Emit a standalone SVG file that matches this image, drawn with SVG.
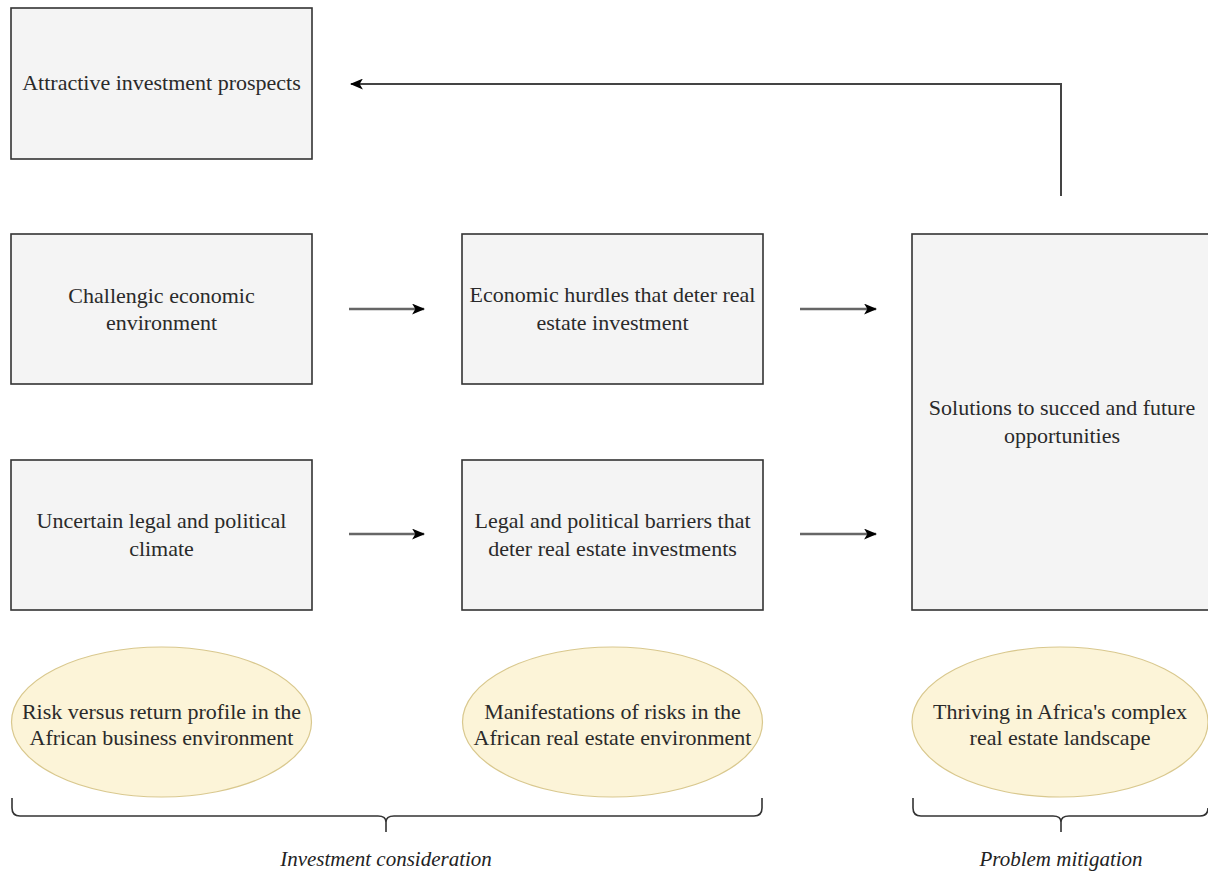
<svg xmlns="http://www.w3.org/2000/svg" width="1208" height="874" viewBox="0 0 1208 874">
<style>
.box{fill:#f4f4f4;stroke:#333;stroke-width:1.6}
.ell{fill:#fcf4d8;stroke:#d9c88e;stroke-width:1.2}
.t{font-family:"Liberation Serif","Times New Roman","DejaVu Serif",serif;font-size:22px;fill:#2a2a2a;text-anchor:middle}
.it{font-family:"Liberation Serif","Times New Roman","DejaVu Serif",serif;font-size:21px;font-style:italic;fill:#222;text-anchor:middle}
.ln{fill:none;stroke:#666;stroke-width:2.5}
.lt{fill:none;stroke:#444;stroke-width:2}
.br{fill:none;stroke:#333;stroke-width:1.6}
</style>
<defs>
<marker id="ah" viewBox="0 0 12 10" refX="11" refY="5" markerWidth="13" markerHeight="11" markerUnits="userSpaceOnUse" orient="auto">
<path d="M0,0 L12,5 L0,10 L3,5 Z" fill="#000"/>
</marker>
</defs>
<rect width="1208" height="874" fill="#fff"/>
<g id="n-attractive"><rect class="box" x="11" y="8" width="301" height="151"/><text class="t" x="161.5" y="90">Attractive investment prospects</text></g>
<g id="n-challengic"><rect class="box" x="11" y="234" width="301" height="150"/><text class="t" x="161.5" y="303">Challengic economic</text><text class="t" x="161.5" y="330">environment</text></g>
<g id="n-economic"><rect class="box" x="462" y="234" width="301" height="150"/><text class="t" x="612.5" y="302">Economic hurdles that deter real</text><text class="t" x="612.5" y="330">estate investment</text></g>
<g id="n-uncertain"><rect class="box" x="11" y="460" width="301" height="150"/><text class="t" x="161.5" y="528">Uncertain legal and political</text><text class="t" x="161.5" y="556">climate</text></g>
<g id="n-legal"><rect class="box" x="462" y="460" width="301" height="150"/><text class="t" x="612.5" y="528">Legal and political barriers that</text><text class="t" x="612.5" y="556">deter real estate investments</text></g>
<g id="n-solutions"><rect class="box" x="912" y="234" width="300" height="376"/><text class="t" x="1062" y="415">Solutions to succed and future</text><text class="t" x="1062" y="443">opportunities</text></g>
<g id="n-risk"><ellipse class="ell" cx="161.5" cy="722" rx="150" ry="75"/><text class="t" x="161.5" y="719">Risk versus return profile in the</text><text class="t" x="161.5" y="745">African business environment</text></g>
<g id="n-manif"><ellipse class="ell" cx="612.5" cy="722" rx="150" ry="75"/><text class="t" x="612.5" y="719">Manifestations of risks in the</text><text class="t" x="612.5" y="745">African real estate environment</text></g>
<g id="n-thriving"><ellipse class="ell" cx="1060" cy="722" rx="148" ry="75"/><text class="t" x="1060" y="719">Thriving in Africa's complex</text><text class="t" x="1060" y="745">real estate landscape</text></g>
<g id="connectors">
<path class="lt" d="M1061,196 V84 H351" marker-end="url(#ah)"/>
<path class="ln" d="M349,309 H424" marker-end="url(#ah)"/>
<path class="ln" d="M800,309 H876" marker-end="url(#ah)"/>
<path class="ln" d="M349,534 H424" marker-end="url(#ah)"/>
<path class="ln" d="M800,534 H876" marker-end="url(#ah)"/>
</g>
<g id="braces">
<path class="br" d="M12,798 V808 Q12,816 20,816 H378 Q386,816 386,822 V832 M386,822 Q386,816 394,816 H754 Q762,816 762,808 V798"/>
<path class="br" d="M913,798 V808 Q913,816 921,816 H1053 Q1061,816 1061,822 V832 M1061,822 Q1061,816 1069,816 H1200 Q1208,816 1208,808"/>
<text class="it" x="386" y="866">Investment consideration</text>
<text class="it" x="1061" y="866">Problem mitigation</text>
</g>
</svg>
